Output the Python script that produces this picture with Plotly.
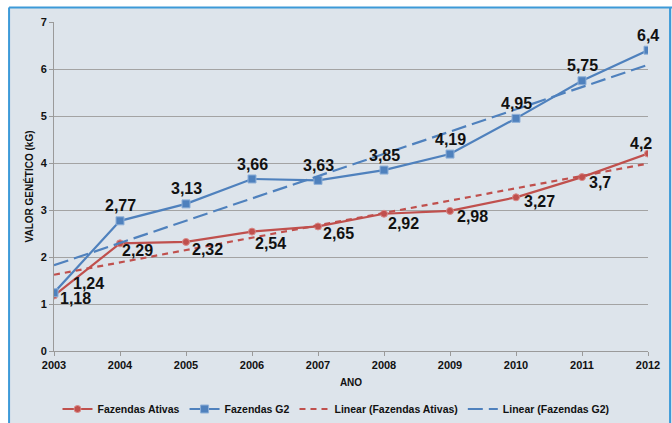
import numpy as np
import plotly.graph_objects as go

years = [2003, 2004, 2005, 2006, 2007, 2008, 2009, 2010, 2011, 2012]
ativas = [1.18, 2.29, 2.32, 2.54, 2.65, 2.92, 2.98, 3.27, 3.70, 4.20]
g2 = [1.24, 2.77, 3.13, 3.66, 3.63, 3.85, 4.19, 4.95, 5.75, 6.40]
ativas_labels = ["1,18", "2,29", "2,32", "2,54", "2,65", "2,92", "2,98", "3,27", "3,7", "4,2"]
g2_labels = ["1,24", "2,77", "3,13", "3,66", "3,63", "3,85", "4,19", "4,95", "5,75", "6,4"]

RED = "#c0504d"
BLUE = "#4f81bd"
BG = "#dde4eb"
BORDER = "#3d9ad8"
FONT = "Liberation Sans, Arial, sans-serif"

x = np.array(years, dtype=float)
fa = np.polyfit(x, np.array(ativas), 1)
fg = np.polyfit(x, np.array(g2), 1)
trend_a = np.polyval(fa, x)
trend_g = np.polyval(fg, x)

fig = go.Figure()
fig.add_trace(go.Scatter(x=years, y=ativas, mode="lines+markers", name="Fazendas Ativas",
                         line=dict(color=RED, width=2.2),
                         marker=dict(symbol="circle", size=7, color=RED,
                                     line=dict(color="#d98a88", width=1))))
fig.add_trace(go.Scatter(x=years, y=g2, mode="lines+markers", name="Fazendas G2",
                         line=dict(color=BLUE, width=2.2),
                         marker=dict(symbol="square", size=8, color=BLUE,
                                     line=dict(color="#8fb0d8", width=1))))
fig.add_trace(go.Scatter(x=years, y=trend_a, mode="lines", name="Linear (Fazendas Ativas)",
                         line=dict(color=RED, width=2.2, dash="6px,5px")))
fig.add_trace(go.Scatter(x=years, y=trend_g, mode="lines", name="Linear (Fazendas G2)",
                         line=dict(color=BLUE, width=2.2, dash="15px,6px")))

# label offsets (pixels) for each point
a_dx = [21, 17, 21, 18, 20, 19, 22, 23, 18, -7]
a_dy = [-3, -7, -8, -12, -7, -10, -6, -4, -5, 10]
g_dx = [34, 0, 0, 0, 0, 0, 0, 0, 0, 0]
g_dy = [9, 15, 15, 14, 15, 15, 15, 15, 15, 15]

for xv, yv, t, dx, dy in zip(years, ativas, ativas_labels, a_dx, a_dy):
    fig.add_annotation(x=xv, y=yv, text=t, showarrow=False, xshift=dx, yshift=dy,
                       font=dict(family=FONT, size=16, color="#111111", weight="bold"))
for xv, yv, t, dx, dy in zip(years, g2, g2_labels, g_dx, g_dy):
    fig.add_annotation(x=xv, y=yv, text=t, showarrow=False, xshift=dx, yshift=dy,
                       font=dict(family=FONT, size=16, color="#111111", weight="bold"))

W, H = 672, 423
ml, mr, mt, mb = 53.5, 23.6, 22, 72
pw = W - ml - mr
ph = H - mt - mb

def px2x(p):
    return (p - ml) / pw

def py2y(p):
    return 1 - (p - mt) / ph

# white outside band + blue frame
fig.add_shape(type="rect", xref="paper", yref="paper", x0=px2x(-5), x1=px2x(W + 5),
              y0=py2y(7.5), y1=py2y(-5), fillcolor="white", line_width=0, layer="below")
fig.add_shape(type="rect", xref="paper", yref="paper", x0=px2x(-5), x1=px2x(8),
              y0=py2y(H + 5), y1=py2y(-5), fillcolor="white", line_width=0, layer="below")
fig.add_shape(type="line", xref="paper", yref="paper", x0=px2x(8.5), x1=px2x(8.5),
              y0=py2y(H + 5), y1=py2y(7.5), line=dict(color=BORDER, width=2))
fig.add_shape(type="line", xref="paper", yref="paper", x0=px2x(8.5), x1=px2x(W + 5),
              y0=py2y(7.5), y1=py2y(7.5), line=dict(color=BORDER, width=2))
fig.add_shape(type="line", xref="paper", yref="paper", x0=px2x(670.5), x1=px2x(670.5),
              y0=py2y(H + 5), y1=py2y(7.5), line=dict(color=BORDER, width=2))

fig.update_layout(
    width=W, height=H,
    margin=dict(l=ml, r=mr, t=mt, b=mb, pad=0, autoexpand=False),
    paper_bgcolor=BG, plot_bgcolor=BG,
    font=dict(family=FONT, color="#111111"),
    showlegend=True,
    legend=dict(orientation="h", x=0.5, xanchor="center", xref="container",
                y=1 - 409 / H, yanchor="middle", yref="container",
                font=dict(family=FONT, size=10.5, color="#111111", weight="bold"),
                bgcolor="rgba(0,0,0,0)", itemwidth=30, tracegroupgap=0),
)
fig.update_xaxes(range=[2003, 2012], tickmode="array", tickvals=years,
                 ticktext=[str(y) for y in years], automargin=False,
                 showgrid=False, zeroline=False,
                 showline=True, linecolor="#9a9a9a", linewidth=1,
                 ticks="outside", ticklen=4, tickcolor="#9a9a9a",
                 tickfont=dict(family=FONT, size=11, color="#111111", weight="bold"),
                 title=dict(text="ANO", font=dict(family=FONT, size=10, color="#111111", weight="bold"),
                            standoff=8))
fig.update_yaxes(range=[0, 7], dtick=1, showgrid=True, gridcolor="#a3a3a3", gridwidth=1,
                 zeroline=False, showline=True, linecolor="#9a9a9a", linewidth=1,
                 automargin=False,
                 ticks="outside", ticklen=4, tickcolor="#9a9a9a",
                 tickfont=dict(family=FONT, size=11, color="#111111", weight="bold"),
                 title=dict(text="VALOR GENÉTICO (kG)",
                            font=dict(family=FONT, size=10, color="#111111", weight="bold"),
                            standoff=5))

fig.write_html("out.html", config={"displayModeBar": False},
               post_script="document.documentElement.style.margin='0';document.body.style.margin='0';document.body.style.padding='0';document.body.style.overflow='hidden';")
